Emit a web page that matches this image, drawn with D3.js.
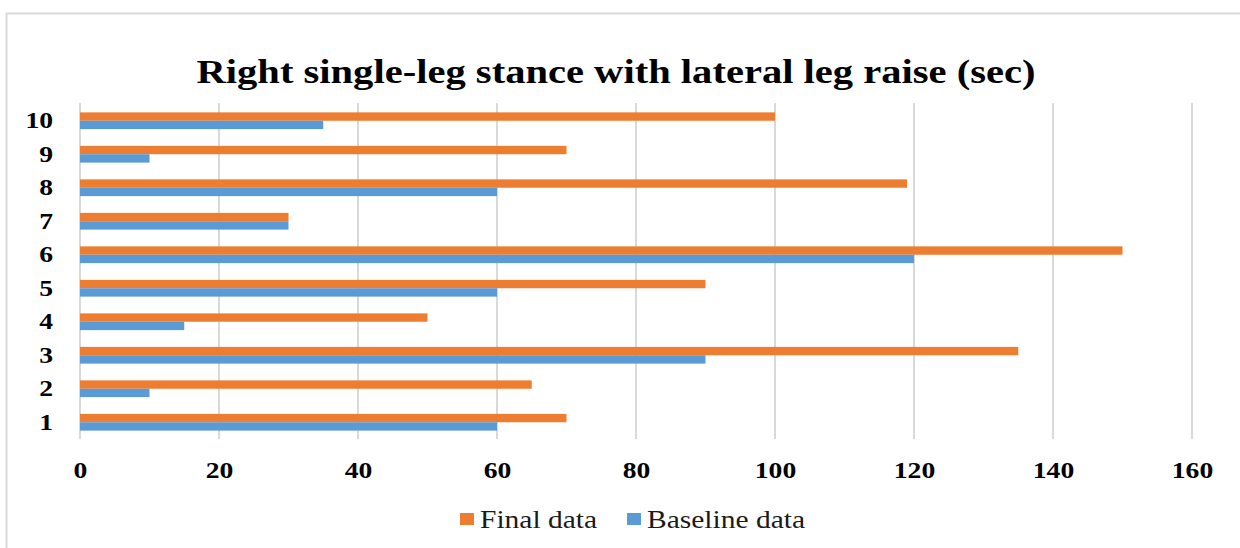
<!DOCTYPE html>
<html>
<head>
<meta charset="utf-8">
<script src="https://cdn.jsdelivr.net/npm/d3@7"></script>
<style>
  body { margin: 0; background: #fff; }
  svg { display: block; }
</style>
</head>
<body>
<div id="chart"></div>
<script>
// 数据
const categories = ['1', '2', '3', '4', '5', '6', '7', '8', '9', '10'];
const finalData = [70, 65, 135, 50, 90, 150, 30, 119, 70, 100];
const baselineData = [60, 10, 90, 15, 60, 120, 30, 60, 10, 35];
const xTicks = [0, 20, 40, 60, 80, 100, 120, 140, 160];
const seriesNames = ['Final data', 'Baseline data'];
const seriesColors = ['#ED7D31', '#5B9BD5'];

const W = 1240, H = 548;
const margin = { left: 80, right: 48, top: 104, bottom: 109 };
const font = '"Liberation Serif", "Times New Roman", serif';

// 文字横向拉伸 (原图文字偏宽)
const stretch = (sel, k) => sel.each(function () {
    const len = this.getComputedTextLength();
    d3.select(this)
        .attr('textLength', len * k)
        .attr('lengthAdjust', 'spacingAndGlyphs');
});

const svg = d3.select('#chart').append('svg')
    .attr('width', W)
    .attr('height', H);

// 外框
svg.append('rect')
    .attr('x', 6.5).attr('y', 13.5)
    .attr('width', W + 20).attr('height', H + 20)
    .attr('fill', 'none')
    .attr('stroke', '#d9d9d9')
    .attr('stroke-width', 2);

const x = d3.scaleLinear()
    .domain([0, 160])
    .range([margin.left, W - margin.right]);

// 类别 1 在底部
const y = d3.scaleBand()
    .domain(categories.slice().reverse())
    .range([margin.top, H - margin.bottom]);

// 间隙宽度 100%
const inner = d3.scaleBand()
    .domain(seriesNames)
    .range([0, y.bandwidth()])
    .paddingOuter(1)
    .paddingInner(0);

// 网格线
svg.append('g')
    .selectAll('line')
    .data(xTicks)
    .join('line')
    .attr('x1', d => x(d)).attr('x2', d => x(d))
    .attr('y1', margin.top - 1).attr('y2', H - margin.bottom)
    .attr('stroke', '#d9d9d9')
    .attr('stroke-width', 2);

// 条形
const series = [finalData, baselineData];
series.forEach((vals, si) => {
    svg.append('g')
        .selectAll('rect')
        .data(categories.map((c, i) => ({ c, v: vals[i] })))
        .join('rect')
        .attr('x', x(0))
        .attr('y', d => y(d.c) + inner(seriesNames[si]))
        .attr('width', d => x(d.v) - x(0))
        .attr('height', inner.bandwidth())
        .attr('fill', seriesColors[si]);
});

// x 轴
const xAxis = svg.append('g')
    .attr('transform', `translate(0,${H - margin.bottom})`)
    .call(d3.axisBottom(x).tickValues(xTicks).tickSize(0).tickPadding(22));
xAxis.select('.domain').remove();
xAxis.selectAll('text')
    .style('font-family', font)
    .style('font-size', '24px')
    .style('font-weight', 'bold')
    .attr('fill', '#000')
    .call(stretch, 1.15);

// y 轴
const yAxis = svg.append('g')
    .attr('transform', `translate(${margin.left},0)`)
    .call(d3.axisLeft(y).tickSize(0).tickPadding(27));
yAxis.select('.domain').remove();
yAxis.selectAll('text')
    .style('font-family', font)
    .style('font-size', '24px')
    .style('font-weight', 'bold')
    .attr('fill', '#000')
    .call(stretch, 1.15);

// 标题
svg.append('text')
    .attr('x', 616)
    .attr('y', 83)
    .attr('text-anchor', 'middle')
    .style('font-family', font)
    .style('font-size', '34px')
    .style('font-weight', 'bold')
    .attr('fill', '#000')
    .text('Right single-leg stance with lateral leg raise (sec)')
    .attr('textLength', 839)
    .attr('lengthAdjust', 'spacingAndGlyphs');

// 图例
const legendX = [460, 627];
const legend = svg.append('g')
    .selectAll('g')
    .data(seriesNames)
    .join('g')
    .attr('transform', (d, i) => `translate(${legendX[i]},513)`);
legend.append('rect')
    .attr('width', 14).attr('height', 12)
    .attr('fill', (d, i) => seriesColors[i]);
legend.append('text')
    .attr('x', 20).attr('y', 15)
    .style('font-family', font)
    .style('font-size', '25px')
    .attr('fill', '#1a1a1a')
    .text(d => d)
    .call(stretch, 1.18);
</script>
</body>
</html>
